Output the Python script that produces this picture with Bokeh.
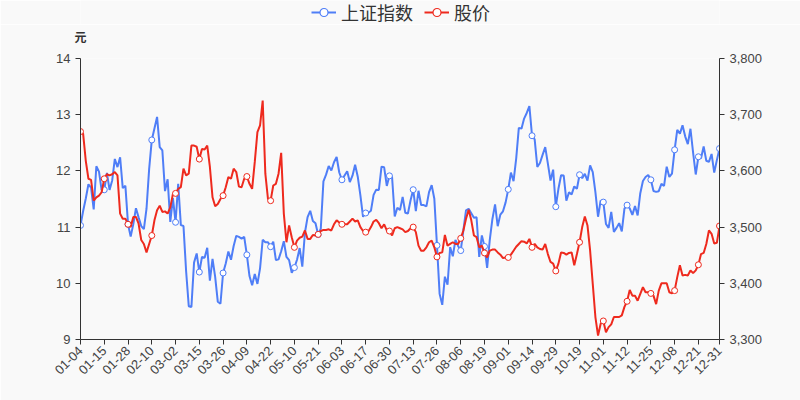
import math
import pandas as pd
from bokeh.plotting import figure
from bokeh.layouts import column
from bokeh.models import (Range1d, LinearAxis, FixedTicker, NumeralTickFormatter,
                          Legend, LegendItem)
from bokeh.embed import file_html
from bokeh.resources import INLINE

# ---- trading calendar (Shanghai, 2021) ----
HOLIDAYS = ["2021-01-01", "2021-02-11", "2021-02-12", "2021-02-15", "2021-02-16",
            "2021-02-17", "2021-04-05", "2021-05-03", "2021-05-04", "2021-05-05",
            "2021-06-14", "2021-09-20", "2021-09-21", "2021-10-01", "2021-10-04",
            "2021-10-05", "2021-10-06", "2021-10-07"]
_days = [d for d in pd.bdate_range("2021-01-04", "2021-12-31")
         if d.strftime("%Y-%m-%d") not in HOLIDAYS]
DATES = [d.strftime("%m-%d") for d in _days]

TICK_LABELS = ["01-04", "01-15", "01-28", "02-10", "03-02", "03-15", "03-26", "04-09",
               "04-22", "05-10", "05-21", "06-03", "06-17", "06-30", "07-13", "07-26",
               "08-06", "08-19", "09-01", "09-14", "09-29", "10-19", "11-01", "11-12",
               "11-25", "12-08", "12-21", "12-31"]

# ---- series ----
SSE_INDEX = [
    3502.96, 3528.68, 3550.88, 3576.21, 3570.11, 3531.50, 3608.34, 3598.65, 3565.90, 3566.38,
    3596.22, 3566.26, 3583.09, 3621.26, 3606.75, 3624.24, 3569.43, 3573.34, 3505.18, 3483.07,
    3505.28, 3533.68, 3517.31, 3501.86, 3496.33, 3532.71, 3603.49, 3655.09, 3675.36, 3696.17,
    3642.44, 3636.36, 3564.08, 3585.05, 3509.08,
    3551.40, 3508.59, 3576.90, 3503.49, 3501.99, 3421.41, 3359.29, 3357.74, 3436.83, 3453.08,
    3419.95, 3446.73, 3445.55, 3463.07, 3404.66, 3443.44, 3411.51, 3367.06, 3363.59, 3418.33,
    3435.30, 3456.68, 3441.91,
    3466.33, 3484.39, 3482.48, 3479.63, 3482.55, 3450.68, 3412.95, 3396.47, 3416.45, 3398.99,
    3426.62, 3477.55, 3472.94, 3472.93, 3465.11, 3474.17, 3441.17, 3442.61, 3457.07, 3474.90,
    3446.86,
    3441.28, 3418.87, 3427.99, 3441.85, 3462.75, 3429.54, 3490.38, 3517.62, 3529.01, 3510.96,
    3506.94, 3486.56, 3497.28, 3581.34, 3593.36, 3608.85, 3600.78, 3615.48,
    3624.71, 3597.14, 3584.22, 3591.84, 3599.54, 3580.11, 3591.40, 3610.86, 3589.75, 3556.56,
    3518.33, 3525.10, 3525.60, 3529.18, 3557.41, 3566.65, 3566.22, 3607.56, 3606.37, 3573.18,
    3591.20,
    3588.78, 3518.76, 3534.32, 3530.26, 3553.72, 3525.50, 3524.09, 3547.84, 3566.59, 3528.50,
    3564.59, 3539.30, 3539.12, 3536.79, 3562.12, 3574.73, 3550.40, 3467.44, 3381.18, 3361.59,
    3411.72, 3397.36,
    3464.29, 3447.99, 3477.22, 3466.44, 3458.23, 3494.63, 3529.93, 3532.62, 3524.74, 3516.76,
    3517.34, 3446.98, 3485.29, 3465.55, 3427.33, 3477.13, 3514.47, 3540.38, 3501.66, 3522.16,
    3528.15, 3543.94,
    3567.10, 3597.04, 3581.73, 3621.86, 3676.59, 3675.19, 3693.13, 3703.11, 3715.37, 3662.60,
    3656.22, 3607.09, 3613.97, 3628.49, 3642.22, 3613.07, 3582.83, 3602.22, 3536.29, 3568.17,
    3592.17, 3591.71, 3546.94, 3561.76, 3558.28, 3572.37, 3568.14, 3593.15, 3587.00, 3594.78,
    3582.60, 3609.86, 3597.64, 3562.31, 3518.42, 3547.34,
    3544.48, 3505.63, 3498.54, 3526.87, 3491.57, 3498.63, 3507.00, 3492.46, 3532.79, 3539.10,
    3533.30, 3521.79, 3537.37, 3520.71, 3560.37, 3582.08, 3589.09, 3592.70, 3584.18, 3564.09,
    3562.70, 3563.89,
    3576.89, 3573.18, 3607.43, 3589.31, 3595.09, 3637.57, 3673.04, 3666.35, 3681.08, 3661.53,
    3647.63, 3675.02, 3632.36, 3593.60, 3625.13, 3622.62, 3643.34, 3618.05, 3615.97, 3630.11,
    3597.00, 3619.19, 3639.78,
]

STOCK_PRICE = [
    12.70, 12.66, 12.18, 11.86, 11.84, 11.47, 11.53, 11.56, 11.62, 11.86,
    11.94, 11.92, 11.94, 11.98, 11.92, 11.24, 11.15, 11.15, 11.05, 11.00,
    11.18, 11.18, 11.06, 10.77, 10.70, 10.55, 10.70, 10.85, 11.12, 11.30,
    11.38, 11.27, 11.28, 11.24, 11.35, 11.59, 11.60, 11.68, 11.71, 12.04,
    11.92, 11.95, 12.45, 12.45, 12.43, 12.21, 12.39, 12.38, 12.45, 12.07,
    11.53, 11.37, 11.41, 11.50, 11.56, 11.71, 11.89, 11.86, 12.04, 11.98,
    11.72, 11.71, 11.86, 11.90, 11.77, 11.68, 12.16, 12.69, 12.81, 13.25,
    11.95, 11.50, 11.47, 11.74, 11.77, 11.95, 12.32, 11.24, 10.73, 11.03,
    10.82, 10.64, 10.76, 10.81, 10.83, 10.94, 10.79, 10.79, 10.86, 10.85,
    10.87, 10.93, 10.95, 10.95, 10.96, 10.94, 11.05, 11.12, 11.08, 11.05,
    11.05, 11.05, 11.10, 11.15, 11.10, 11.12, 11.00, 10.93, 10.91, 10.92,
    11.00, 11.10, 11.13, 11.07, 10.98, 11.05, 10.94, 10.93, 10.85, 10.98,
    11.00, 10.98, 10.96, 10.91, 10.93, 10.98, 11.00, 10.91, 10.67, 10.58,
    10.58, 10.64, 10.73, 10.76, 10.64, 10.47, 10.54, 10.55, 10.86, 10.67,
    10.70, 10.73, 10.70, 10.70, 10.80, 10.94, 11.15, 11.31, 11.12, 10.85,
    10.82, 10.64, 10.67, 10.54, 10.46, 10.58, 10.60, 10.60, 10.55, 10.51,
    10.45, 10.46, 10.46, 10.51, 10.58, 10.65, 10.70, 10.75, 10.74, 10.71,
    10.79, 10.64, 10.70, 10.64, 10.61, 10.60, 10.70, 10.52, 10.38, 10.35,
    10.22, 10.35, 10.55, 10.54, 10.51, 10.54, 10.55, 10.32, 10.52, 10.73,
    11.00, 11.19, 11.03, 10.58, 9.99, 9.40, 9.07, 9.28, 9.33, 9.13,
    9.22, 9.27, 9.40, 9.40, 9.40, 9.43, 9.58, 9.68, 9.88, 9.78,
    9.78, 9.69, 9.81, 9.93, 9.84, 9.84, 9.82, 9.78, 9.63, 9.87,
    10.00, 10.00, 10.00, 9.84, 9.82, 9.87, 10.11, 10.32, 10.14, 10.15,
    10.14, 10.23, 10.18, 10.23, 10.33, 10.52, 10.54, 10.70, 10.94, 10.88,
    10.71, 10.72, 11.02,
]

SERIES_NAMES = ["上证指数", "股价"]
Y_UNIT = "元"

BLUE = "#4f7ef7"
RED = "#ee2a1e"
BG = "#f9f9f9"
TXT = "#444444"
AXC = "#333333"
NUM_FONT = "Liberation Sans"
CJK_FONT = "Noto Sans CJK SC"

xs = list(range(len(DATES)))
tick_idx = [DATES.index(t) for t in TICK_LABELS]
mark_idx = list(range(0, len(DATES), 9)) + [len(DATES) - 1]

FRAME_L, FRAME_R = 80, 719
HEAD_H = 24

# ---------------- header strip (legend) ----------------
head = figure(width=800, height=HEAD_H, output_backend="svg", toolbar_location=None,
              x_range=Range1d(FRAME_L, FRAME_R), y_range=Range1d(HEAD_H, 0),
              min_border_left=FRAME_L, min_border_right=800 - FRAME_R,
              min_border_top=0, min_border_bottom=0,
              background_fill_color=BG, border_fill_color=BG, outline_line_color=None)
head.axis.visible = False
head.grid.visible = False
NAN = [float("nan")]
hb_line = head.line(NAN, NAN, line_color=BLUE, line_width=2)
hb_dot = head.scatter(NAN, NAN, size=9, marker="circle", fill_color="white",
                      line_color=BLUE, line_width=1.2)
hr_line = head.line(NAN, NAN, line_color=RED, line_width=2)
hr_dot = head.scatter(NAN, NAN, size=9, marker="circle", fill_color="white",
                      line_color=RED, line_width=1.2)
legend = Legend(items=[LegendItem(label=SERIES_NAMES[0], renderers=[hb_line, hb_dot]),
                       LegendItem(label=SERIES_NAMES[1], renderers=[hr_line, hr_dot])],
                orientation="horizontal", location=(311 - FRAME_L, -1),
                label_text_font=CJK_FONT, label_text_font_size="18px",
                label_text_color="#333333", label_text_baseline="middle",
                glyph_width=25, glyph_height=20, label_height=20,
                label_standoff=5, spacing=11, padding=0, margin=0,
                border_line_color=None, background_fill_alpha=0)
head.add_layout(legend)

# ---------------- main chart ----------------
p = figure(width=800, height=400 - HEAD_H, output_backend="svg", toolbar_location=None,
           x_range=Range1d(0, len(DATES) - 1), y_range=Range1d(9, 14),
           min_border_left=FRAME_L, min_border_right=800 - FRAME_R,
           min_border_top=0, min_border_bottom=61,
           background_fill_color=BG, border_fill_color=BG, outline_line_color=None)
p.grid.visible = False
p.extra_y_ranges = {"idx": Range1d(3300, 3800)}

xa = p.xaxis[0]
xa.ticker = FixedTicker(ticks=tick_idx)
xa.major_label_overrides = {i: DATES[i] for i in tick_idx}
xa.major_label_orientation = math.pi / 4
xa.minor_tick_line_color = None
xa.major_tick_in = 0
xa.major_tick_out = 5
xa.axis_line_color = AXC
xa.major_tick_line_color = AXC
xa.major_label_text_font = NUM_FONT
xa.major_label_text_font_size = "13px"
xa.major_label_text_color = TXT
xa.major_label_standoff = 4

# unit name of the left axis, drawn as a label of an axis above the frame
ua = LinearAxis(ticker=FixedTicker(ticks=[0]), major_label_overrides={0: Y_UNIT})
ua.axis_line_color = None
ua.major_tick_line_color = None
ua.minor_tick_line_color = None
ua.major_label_text_font = CJK_FONT
ua.major_label_text_font_size = "12px"
ua.major_label_text_font_style = "bold"
ua.major_label_text_color = "#333333"
ua.major_label_standoff = 8
p.add_layout(ua, "above")

ya = p.yaxis[0]
ya.ticker = FixedTicker(ticks=[9, 10, 11, 12, 13, 14])
ya.minor_tick_line_color = None
ya.major_tick_in = 0
ya.major_tick_out = 5
ya.axis_line_color = AXC
ya.major_tick_line_color = AXC
ya.major_label_text_font = NUM_FONT
ya.major_label_text_font_size = "13px"
ya.major_label_text_color = TXT
ya.major_label_standoff = 5

ra = LinearAxis(y_range_name="idx",
                ticker=FixedTicker(ticks=[3300, 3400, 3500, 3600, 3700, 3800]),
                formatter=NumeralTickFormatter(format="0,0"))
ra.minor_tick_line_color = None
ra.major_tick_in = 0
ra.major_tick_out = 5
ra.axis_line_color = AXC
ra.major_tick_line_color = AXC
ra.major_label_text_font = NUM_FONT
ra.major_label_text_font_size = "13px"
ra.major_label_text_color = TXT
ra.major_label_standoff = 5
p.add_layout(ra, "right")

p.line(xs, SSE_INDEX, y_range_name="idx", line_color=BLUE, line_width=2)
p.scatter([xs[i] for i in mark_idx], [SSE_INDEX[i] for i in mark_idx],
          y_range_name="idx", size=6, marker="circle",
          fill_color="white", line_color=BLUE, line_width=1)
p.line(xs, STOCK_PRICE, line_color=RED, line_width=2)
p.scatter([xs[i] for i in mark_idx], [STOCK_PRICE[i] for i in mark_idx],
          size=6, marker="circle", fill_color="white", line_color=RED, line_width=1)

layout = column(head, p, spacing=0)
open("out.html", "w").write(file_html(layout, INLINE))
